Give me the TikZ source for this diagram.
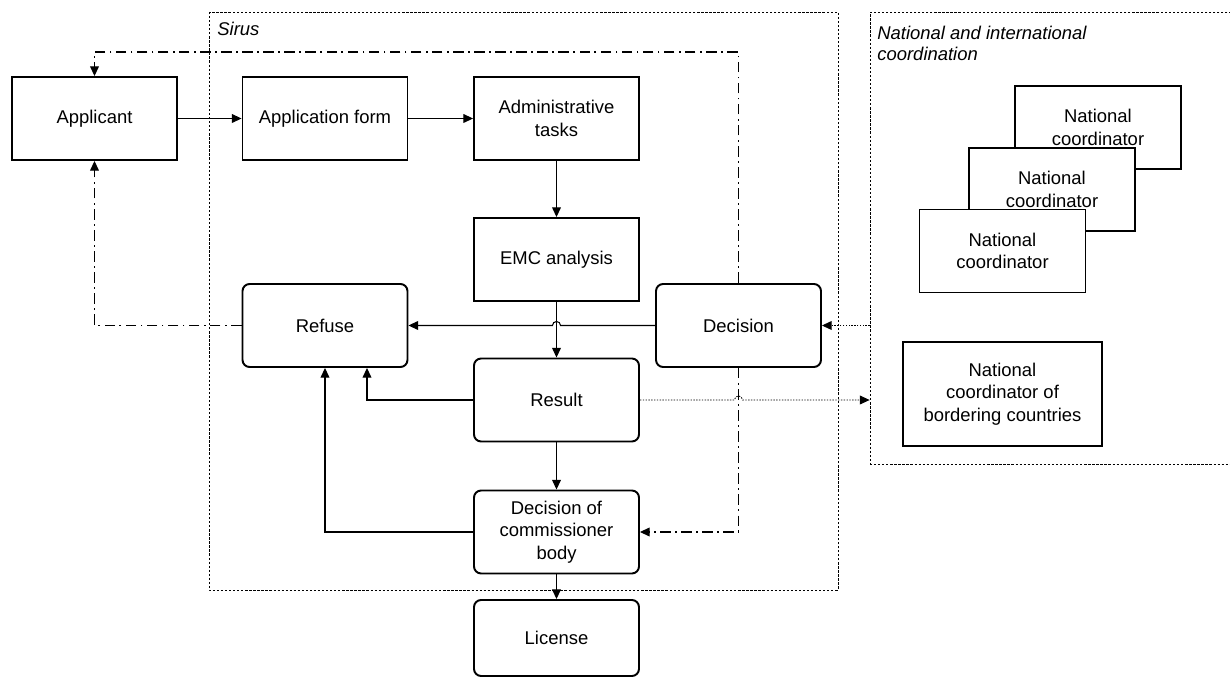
\documentclass[tikz,border=0pt]{standalone}
\usepackage{fontspec}
\setmainfont{Liberation Sans}
\usetikzlibrary{arrows.meta}

\begin{document}
\begin{tikzpicture}[x=0.02cm,y=-0.02cm,
	font=\fontsize{10.5}{12.8}\selectfont,
	>={Triangle[length=5.5pt,width=5pt]},
	box/.style={draw,line width=1.1pt,fill=white,align=center,minimum width=3.3cm,minimum height=1.66cm,inner sep=1pt},
	rbox/.style={box,rounded corners=4pt},
	region/.style={draw,line width=0.5pt,dash pattern=on 1.3pt off 1pt},
	flow/.style={->,line width=0.6pt},
	back/.style={->,line width=0.6pt,dash pattern=on 6pt off 2.5pt on 1pt off 2.5pt},
	info/.style={->,line width=0.5pt,dash pattern=on 0.8pt off 0.8pt}]
	\useasboundingbox (0,0) rectangle (1230,678);
	%
	\draw[region] (209,12) rectangle (838,590);
	\node[anchor=base west,inner sep=0pt,font=\fontsize{10.5}{12}\selectfont\itshape] (sirus) at (217,36) {Sirus};
	\node[region,minimum width=7.3cm,minimum height=9.04cm] (natl) at (1052.5,238) {};
	\node[anchor=north west,align=left,inner sep=0pt,font=\fontsize{10.5}{12}\selectfont\itshape] (natllabel) at (877,26) {National and international\\coordination};
	%
	\node[box] (applicant) at (94.5,118.5) {Applicant};
	\node[box] (form) at (325,118.5) {Application form};
	\node[box] (admin) at (556.5,118.5) {Administrative\\tasks};
	\node[box] (emc) at (556.5,259.5) {EMC analysis};
	\node[rbox] (refuse) at (325,325.5) {Refuse};
	\node[rbox] (decision) at (738.5,325.5) {Decision};
	\node[rbox] (result) at (556.5,400) {Result};
	\node[rbox] (commission) at (556.5,532) {Decision of\\commissioner\\body};
	\node[rbox,minimum height=1.52cm] (license) at (556.5,638) {License};
	%
	\node[box,minimum width=3.32cm] (coordC) at (1098,127.5) {National\\coordinator};
	\node[box,minimum width=3.32cm] (coordB) at (1052,189.5) {National\\coordinator};
	\node[box,minimum width=3.32cm] (coordA) at (1002.5,251) {National\\coordinator};
	\node[box,minimum width=3.98cm,minimum height=2.08cm] (border) at (1002.5,394) {National\\coordinator of\\bordering countries};
	%
	\coordinate (top) at (0,52);
	\path[flow]
	(applicant) edge (form)
	(form) edge (admin)
	(admin) edge (emc)
	(emc) edge (result)
	(result) edge (commission)
	(commission) edge (license);
	%
	\draw[flow] (decision.west) -- ([xshift=2.3pt]emc.south |- decision.west) arc[start angle=0,end angle=180,radius=2.3pt] -- (refuse.east);
	\draw[flow] (result.west) -| ([xshift=0.84cm]refuse.south);
	\draw[flow] (commission.west) -| (refuse.south);
	%
	\draw[back] (decision.north) |- (applicant.north |- top) -- (applicant.north);
	\draw[back] (refuse.west) -| (applicant.south);
	\draw[back] (decision.south) |- (commission.east);
	%
	\draw[info] (result.east) -- ([xshift=-2.3pt]decision.south |- result.east) arc[start angle=180,end angle=0,radius=2.3pt] -- (natl.west |- result.east);
	\draw[info] (natl.west |- decision.east) -- (decision.east);
\end{tikzpicture}
\end{document}
